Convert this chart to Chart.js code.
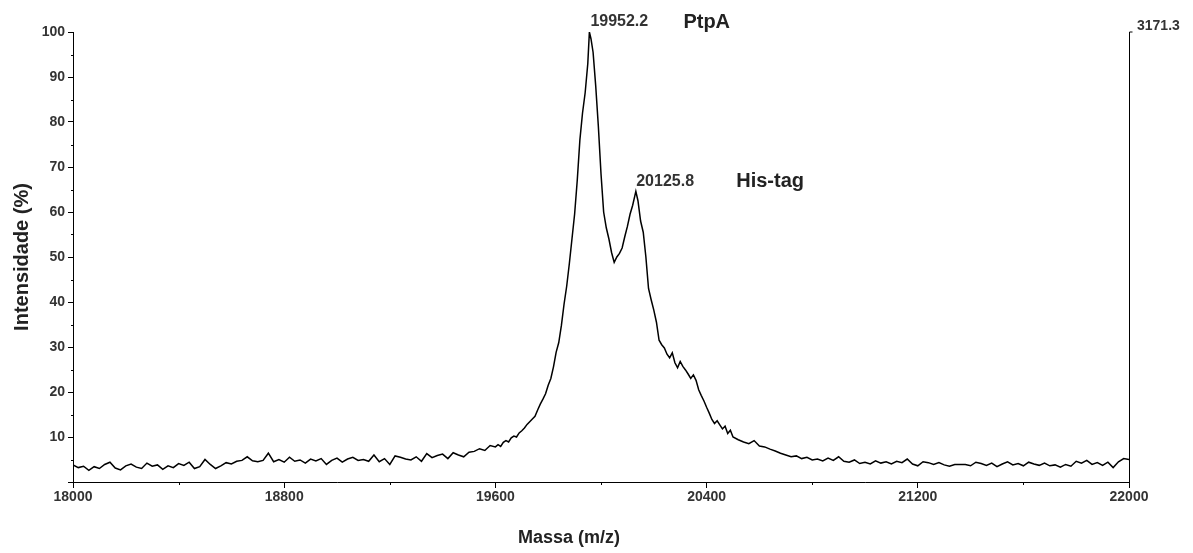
<!DOCTYPE html>
<html>
<head>
<meta charset="utf-8">
<script src="https://cdn.jsdelivr.net/npm/chart.js@4/dist/chart.umd.min.js"></script>
<style>
  html, body { margin: 0; padding: 0; background: #fff; }
  canvas { display: block; }
</style>
</head>
<body>
<canvas id="spectrum" width="1193" height="553"></canvas>
<script>
// mass (m/z) and relative intensity (%)
const masses = [
  18000, 18020, 18040, 18060, 18080, 18100, 18120, 18140, 18160, 18180,
  18200, 18220, 18240, 18260, 18280, 18300, 18320, 18340, 18360, 18380,
  18400, 18420, 18440, 18460, 18480, 18500, 18520, 18540, 18560, 18580,
  18600, 18620, 18640, 18660, 18680, 18700, 18720, 18740, 18760, 18780,
  18800, 18820, 18840, 18860, 18880, 18900, 18920, 18940, 18960, 18980,
  19000, 19020, 19040, 19060, 19080, 19100, 19120, 19140, 19160, 19180,
  19200, 19220, 19240, 19260, 19280, 19300, 19320, 19340, 19360, 19380,
  19400, 19420, 19440, 19460, 19480, 19500, 19520, 19540, 19560, 19580,
  19600, 19610, 19620, 19630, 19640, 19650, 19660, 19670, 19680, 19690,
  19700, 19710, 19720, 19730, 19740, 19750, 19760, 19770, 19780, 19790,
  19800, 19810, 19820, 19830, 19840, 19850, 19860, 19870, 19880, 19890,
  19900, 19910, 19920, 19930, 19940, 19950, 19956, 19962, 19970, 19980,
  19990, 20000, 20010, 20020, 20030, 20040, 20050, 20060, 20070, 20080,
  20090, 20100, 20110, 20120, 20132, 20140, 20150, 20160, 20170, 20180,
  20190, 20200, 20210, 20220, 20230, 20240, 20250, 20260, 20270, 20280,
  20290, 20300, 20310, 20320, 20330, 20340, 20350, 20360, 20370, 20380,
  20390, 20400, 20410, 20420, 20430, 20440, 20450, 20460, 20470, 20480,
  20490, 20500, 20520, 20540, 20560, 20580, 20600, 20620, 20640, 20660,
  20680, 20700, 20720, 20740, 20760, 20780, 20800, 20820, 20840, 20860,
  20880, 20900, 20920, 20940, 20960, 20980, 21000, 21020, 21040, 21060,
  21080, 21100, 21120, 21140, 21160, 21180, 21200, 21220, 21240, 21260,
  21280, 21300, 21320, 21340, 21360, 21380, 21400, 21420, 21440, 21460,
  21480, 21500, 21520, 21540, 21560, 21580, 21600, 21620, 21640, 21660,
  21680, 21700, 21720, 21740, 21760, 21780, 21800, 21820, 21840, 21860,
  21880, 21900, 21920, 21940, 21960, 21980, 22000
];
const intensities = [
  3.8, 3.2, 3.5, 2.6, 3.4, 3.0, 3.9, 4.4, 3.1, 2.7,
  3.6, 4.0, 3.3, 3.0, 4.2, 3.5, 3.8, 2.8, 3.6, 3.2,
  4.1, 3.7, 4.4, 3.0, 3.4, 5.0, 3.9, 3.0, 3.6, 4.3,
  4.0, 4.6, 4.8, 5.6, 4.7, 4.5, 4.8, 6.4, 4.5, 5.0,
  4.4, 5.5, 4.6, 4.9, 4.2, 5.1, 4.7, 5.2, 3.9, 4.8,
  5.3, 4.4, 5.1, 5.5, 4.8, 5.0, 4.6, 6.0, 4.5, 5.2,
  3.9, 5.8, 5.5, 5.1, 4.9, 5.6, 4.6, 6.3, 5.4, 5.9,
  6.2, 5.2, 6.5, 6.0, 5.6, 6.6, 6.8, 7.4, 7.0, 8.1,
  7.8, 8.3, 7.9, 8.8, 9.2, 8.9, 9.8, 10.2, 10.0, 10.9,
  11.4, 12.0, 12.8, 13.4, 14.0, 14.6, 16.0, 17.3, 18.4, 19.6,
  21.5, 23.0, 25.6, 28.8, 31.0, 34.8, 39.5, 43.5, 48.5, 54.0,
  59.5, 67.0, 76.0, 82.0, 86.5, 93.0, 100.0, 98.5, 95.5, 88.0,
  79.0, 68.5, 60.0, 56.5, 54.0, 51.0, 48.8, 50.0, 50.8, 52.0,
  54.5, 56.8, 59.5, 61.5, 64.6, 62.5, 58.0, 55.5, 50.0, 43.0,
  40.5, 38.2, 35.5, 31.5, 30.5, 29.8, 28.4, 27.6, 28.7, 26.5,
  25.4, 26.8, 25.7, 24.9, 24.0, 23.0, 23.8, 22.6, 20.5, 19.2,
  18.0, 16.6, 15.3, 13.9, 13.0, 13.6, 12.7, 11.8, 12.4, 10.8,
  11.5, 10.0, 9.4, 8.9, 8.5, 9.2, 8.0, 7.8, 7.3, 6.9,
  6.4, 6.0, 5.6, 5.8, 5.2, 5.5, 4.9, 5.1, 4.7, 5.3,
  4.8, 5.6, 4.6, 4.4, 4.9, 4.1, 4.4, 4.0, 4.7, 4.2,
  4.5, 4.0, 4.6, 4.3, 5.1, 4.0, 3.6, 4.5, 4.3, 3.9,
  4.3, 3.8, 3.5, 3.9, 3.9, 3.9, 3.6, 4.4, 4.1, 3.7,
  4.2, 3.4, 4.0, 4.5, 3.8, 4.1, 3.6, 4.4, 4.0, 3.7,
  4.2, 3.6, 3.8, 3.3, 3.9, 3.5, 4.6, 4.2, 4.8, 3.9,
  4.3, 3.7, 4.4, 3.2, 4.5, 5.2, 5.0
];

const xMajorTicks = [18000, 18800, 19600, 20400, 21200, 22000];
const xMinorTicks = [18400, 19200, 20000, 20800, 21600];
const yMajorTicks = [0, 10, 20, 30, 40, 50, 60, 70, 80, 90, 100];
const yMinorTicks = [5, 15, 25, 35, 45, 55, 65, 75, 85, 95];

const peakMasses = [19952.2, 20125.8];
const peakHeights = [100, 64.6];
const peakLabels = ["19952.2", "20125.8"];
const peakNames = ["PtpA", "His-tag"];
const maxCounts = "3171.3";

const FONT = "'Liberation Sans', Arial, sans-serif";
const AXIS = "#000";

// minor ticks, right axis, axis titles and peak labels
const extras = {
  id: "extras",
  afterDraw(chart) {
    const { ctx, chartArea: a, scales: { x, y } } = chart;
    ctx.save();
    ctx.strokeStyle = AXIS;
    ctx.lineWidth = 1;
    ctx.beginPath();
    yMinorTicks.forEach(v => {
      const py = Math.round(y.getPixelForValue(v)) + 0.5;
      ctx.moveTo(a.left - 2, py);
      ctx.lineTo(a.left, py);
    });
    xMinorTicks.forEach(v => {
      const px = Math.round(x.getPixelForValue(v)) + 0.5;
      ctx.moveTo(px, a.bottom);
      ctx.lineTo(px, a.bottom + 3);
    });
    // right axis
    const rx = Math.round(a.right) + 0.5;
    ctx.moveTo(rx, a.bottom);
    ctx.lineTo(rx, a.top);
    ctx.lineTo(rx + 3, a.top);
    ctx.stroke();

    ctx.fillStyle = "#333";
    ctx.textBaseline = "middle";
    ctx.textAlign = "left";
    ctx.font = "bold 14px " + FONT;
    ctx.fillText(maxCounts, a.right + 8, a.top - 6);

    // peak labels
    peakMasses.forEach((m, i) => {
      const px = x.getPixelForValue(m);
      const py = y.getPixelForValue(peakHeights[i]);
      ctx.fillStyle = "#333";
      ctx.font = "bold 16px " + FONT;
      ctx.fillText(peakLabels[i], px + 2, py - 10);
      ctx.fillStyle = "#222";
      ctx.font = "bold 20px " + FONT;
      ctx.fillText(peakNames[i], px + (i === 0 ? 95 : 102), py - 10);
    });

    // axis titles
    ctx.fillStyle = "#222";
    ctx.textAlign = "center";
    ctx.font = "bold 18px " + FONT;
    ctx.fillText("Massa (m/z)", (a.left + a.right) / 2 - 32, 538);
    ctx.save();
    ctx.translate(22, 257);
    ctx.rotate(-Math.PI / 2);
    ctx.font = "bold 20px " + FONT;
    ctx.fillText("Intensidade (%)", 0, 0);
    ctx.restore();
    ctx.restore();
  }
};

new Chart(document.getElementById("spectrum"), {
  type: "line",
  data: {
    datasets: [{
      data: masses.map((m, i) => ({ x: m, y: intensities[i] })),
      borderColor: "#000",
      borderWidth: 1.5,
      pointRadius: 0,
      tension: 0,
      fill: false
    }]
  },
  options: {
    responsive: false,
    animation: false,
    devicePixelRatio: 1,
    layout: { padding: { left: 0, top: 32, right: 64, bottom: 0 } },
    plugins: { legend: { display: false }, tooltip: { enabled: false } },
    scales: {
      x: {
        type: "linear",
        min: 18000,
        max: 22000,
        afterBuildTicks: s => { s.ticks = xMajorTicks.map(v => ({ value: v })); },
        afterFit: s => { s.height = 71; },
        border: { color: AXIS, width: 1 },
        grid: { drawOnChartArea: false, tickLength: 6, tickColor: AXIS },
        ticks: {
          padding: 1,
          maxRotation: 0,
          color: "#333",
          font: { family: FONT, size: 14, weight: "bold" },
          callback: v => String(v)
        }
      },
      y: {
        min: 0,
        max: 100,
        afterBuildTicks: s => { s.ticks = yMajorTicks.map(v => ({ value: v })); },
        afterFit: s => { s.width = 73; },
        border: { color: AXIS, width: 1 },
        grid: { drawOnChartArea: false, tickLength: 5, tickColor: AXIS },
        ticks: {
          padding: 3,
          color: "#333",
          font: { family: FONT, size: 14, weight: "bold" },
          callback: v => (v === 0 ? "" : String(v))
        }
      }
    }
  },
  plugins: [extras]
});
</script>
</body>
</html>
